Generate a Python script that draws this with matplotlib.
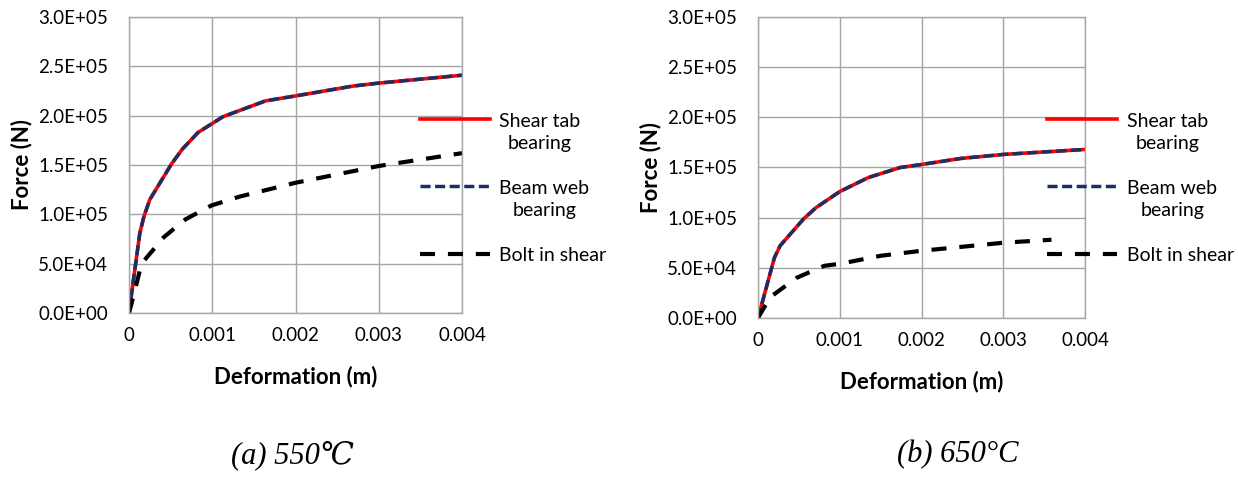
import numpy as np
import matplotlib
matplotlib.use("Agg")
import matplotlib.pyplot as plt
from matplotlib.ticker import FuncFormatter
from matplotlib.legend_handler import HandlerLine2D

plt.rcParams["font.family"] = ["Lato", "DejaVu Sans"]

# ── data ─────────────────────────────────────────────────────
# (a) 550 C
x550_tab = [0, 0.00003, 0.00013, 0.00018, 0.00025, 0.00051, 0.00064, 0.00083,
            0.00113, 0.00164, 0.0020, 0.00269, 0.0030, 0.0040]
y550_tab = [0, 1.9e4, 8.1e4, 9.8e4, 1.15e5, 1.51e5, 1.66e5, 1.83e5,
            1.99e5, 2.15e5, 2.20e5, 2.30e5, 2.33e5, 2.41e5]
x550_bolt = [0, 0.00006, 0.00015, 0.00042, 0.00068, 0.00099, 0.00133, 0.0020, 0.0030, 0.0040]
y550_bolt = [0, 1.9e4, 5.0e4, 7.7e4, 9.5e4, 1.09e5, 1.18e5, 1.32e5, 1.49e5, 1.62e5]

# (b) 650 C
x650_tab = [0, 0.00005, 0.0002, 0.00027, 0.00056, 0.00071, 0.0010, 0.00135,
            0.00174, 0.0020, 0.00248, 0.0030, 0.0040]
y650_tab = [0, 1.5e4, 6.0e4, 7.2e4, 9.9e4, 1.10e5, 1.26e5, 1.40e5,
            1.50e5, 1.53e5, 1.59e5, 1.63e5, 1.68e5]
x650_bolt = [0, 0.00007, 0.00017, 0.00047, 0.00081, 0.0010, 0.0015, 0.0020, 0.0030, 0.00359]
y650_bolt = [0, 1.0e4, 2.2e4, 4.0e4, 5.2e4, 5.4e4, 6.2e4, 6.7e4, 7.5e4, 7.8e4]

xticks = [0, 0.001, 0.002, 0.003, 0.004]
xtick_labels = ["0", "0.001", "0.002", "0.003", "0.004"]
yticks = [0, 5e4, 1e5, 1.5e5, 2e5, 2.5e5, 3e5]

LEG_FS = 14
LEG_LS = 1.35


class TopHandler(HandlerLine2D):
    """put the legend line next to the first line of a wrapped label"""
    def __init__(self, nlines, **kw):
        super().__init__(**kw)
        self.nlines = nlines

    def create_artists(self, legend, orig_handle, xdescent, ydescent,
                       width, height, fontsize, trans):
        arts = super().create_artists(legend, orig_handle, xdescent, ydescent,
                                      width, height, fontsize, trans)
        shift = (self.nlines - 1) / 2 * fontsize * LEG_LS
        for a in arts:
            a.set_ydata(np.asarray(a.get_ydata()) + shift)
        return arts


# axes rect, data, caption, caption x, legend anchor
panels = [
    ([0.1042, 0.3479, 0.2690, 0.6167], x550_tab, y550_tab, x550_bolt, y550_bolt,
     "(a) 550\u2103", 0.236, (0.339, 0.765)),
    ([0.6123, 0.3375, 0.2641, 0.6271], x650_tab, y650_tab, x650_bolt, y650_bolt,
     "(b) 650\u00b0C", 0.774, (0.846, 0.765)),
]

fig = plt.figure(figsize=(12.38, 4.8), dpi=100)
grid_c = "#a6a6a6"

for rect, xt, yt, xb, yb, caption, cx, anchor in panels:
    ax = fig.add_axes(rect)
    l1, = ax.plot(xt, yt, color="#ff0000", lw=2.6, label="Shear tab\nbearing")
    l2, = ax.plot(xt, yt, color="#1c2f63", lw=2.5, ls=(0, (2.9, 1.3)), label="Beam web\nbearing")
    l3, = ax.plot(xb, yb, color="black", lw=3, ls=(0, (3.6, 3.1)), label="Bolt in shear")
    ax.set_xlim(0, 0.004)
    ax.set_ylim(0, 3e5)
    ax.set_xticks(xticks)
    ax.set_xticklabels(xtick_labels)
    ax.set_yticks(yticks)
    ax.yaxis.set_major_formatter(FuncFormatter(lambda v, p: f"{v:.1E}"))
    ax.tick_params(length=0, labelsize=13.5)
    ax.tick_params(axis="y", pad=15)
    ax.tick_params(axis="x", pad=10)
    ax.grid(color=grid_c, lw=1)
    for s in ax.spines.values():
        s.set_color(grid_c)
        s.set_linewidth(1)
    ax.set_xlabel("Deformation (m)", fontsize=16, fontweight="bold", labelpad=16)
    ax.set_ylabel("Force (N)", fontsize=16, fontweight="bold", labelpad=4)
    leg = fig.legend(handles=[l1, l2, l3], loc="upper left", bbox_to_anchor=anchor,
                     bbox_transform=fig.transFigure, frameon=False,
                     fontsize=LEG_FS, handlelength=3.6, labelspacing=1.45,
                     handletextpad=0.5, borderpad=0, borderaxespad=0,
                     handler_map={l1: TopHandler(2), l2: TopHandler(2), l3: TopHandler(1)})
    for t in leg.get_texts():
        t.set_linespacing(LEG_LS)
        t.set_multialignment("center")
    fig.text(cx, 0.052, caption, ha="center", va="center", fontsize=22, style="italic",
             family=["Liberation Serif", "DejaVu Serif"])

fig.savefig("out.png", dpi=100)
